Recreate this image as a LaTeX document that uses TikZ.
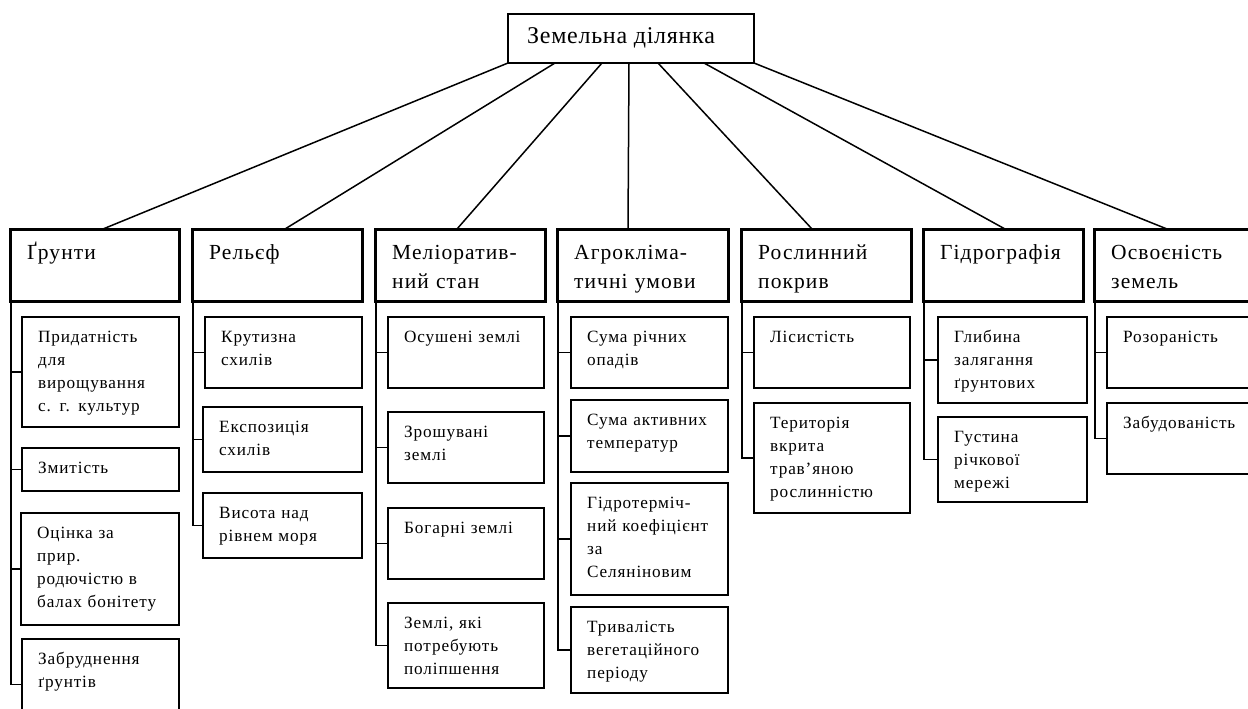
\documentclass[tikz,border=0pt]{standalone}
\usepackage{fontspec}
\setmainfont{Liberation Serif}
\newfontfamily\rootfnt[LetterSpace=3]{Liberation Serif}
\newfontfamily\catfnt[LetterSpace=5]{Liberation Serif}
\newfontfamily\subfnt[LetterSpace=5]{Liberation Serif}
\tikzset{
  rootbox/.style={draw, line width=2.2pt, anchor=north west, inner sep=0pt, outer sep=0pt},
  catbox/.style={draw, line width=3pt, anchor=north west, inner sep=0pt, outer sep=0pt},
  subbox/.style={draw, line width=1.5pt, anchor=north west, inner sep=0pt, outer sep=0pt},
  roottxt/.style={anchor=base west, inner sep=0pt, font=\rootfnt\fontsize{24}{28}\selectfont},
  cattxt/.style={anchor=base west, inner sep=0pt, text width=165pt, align=left, font=\catfnt\fontsize{21.5}{29}\selectfont},
  subtxt/.style={anchor=base west, inner sep=0pt, text width=155pt, align=left, font=\subfnt\fontsize{17.2}{23}\selectfont},
  link/.style={line width=1.5pt},
  conn/.style={line width=1.5pt},
}
\newcommand\catbx[6]{%
  \node[catbox, minimum width={(#4-#2)*1pt}, minimum height={(#5-#3)*1pt}] (#1) at (#2,#3) {};
  \node[cattxt] (#1t) at ([shift={(17,30)}]#1.north west) {#6};
}
\newcommand\subbx[6]{%
  \node[subbox, minimum width={(#4-#2)*1pt}, minimum height={(#5-#3)*1pt}] (#1) at (#2,#3) {};
  \node[subtxt] (#1t) at ([shift={(16,25)}]#1.north west) {#6};
}
\begin{document}
\begin{tikzpicture}[x=1pt, y=-1pt]
\clip (0,0) rectangle (1248,709);
\fill[white] (0,0) rectangle (1248,709);

% root
\node[rootbox, minimum width=246pt, minimum height=49pt] (root) at (508,14) {};
\node[roottxt] (roott) at ([shift={(19,30)}]root.north west) {Земельна ділянка};

% categories
\catbx{g}{10}{229}{179}{301}{Ґрунти}
\catbx{r}{192}{229}{362}{301}{Рельєф}
\catbx{m}{375}{229}{545}{301}{Меліоратив-\\ний стан}
\catbx{a}{557}{229}{728}{301}{Агрокліма-\\тичні умови}
\catbx{p}{741}{229}{911}{301}{Рослинний\\покрив}
\catbx{h}{923}{229}{1083}{301}{Гідрографія}
\catbx{o}{1094}{229}{1262}{301}{Освоєність\\земель}

% links from root
\draw[link] ([xshift=0pt]root.south west) -- ([xshift=93pt]g.north west);
\draw[link] ([xshift=47pt]root.south west) -- ([xshift=93pt]r.north west);
\draw[link] ([xshift=94pt]root.south west) -- ([xshift=82pt]m.north west);
\draw[link] ([xshift=121pt]root.south west) -- ([xshift=71pt]a.north west);
\draw[link] ([xshift=150pt]root.south west) -- ([xshift=71pt]p.north west);
\draw[link] ([xshift=196pt]root.south west) -- ([xshift=82pt]h.north west);
\draw[link] ([xshift=246pt]root.south west) -- ([xshift=73pt]o.north west);

% Ґрунти
\subbx{g1}{22}{317}{179}{427}{Придатність\\для\\вирощування\\с. г. культур}
\subbx{g2}{22}{448}{179}{491}{Змитість}
\subbx{g3}{21}{513}{179}{625}{Оцінка за\\прир.\\родючістю в\\балах бонітету}
\subbx{g4}{22}{639}{179}{730}{Забруднення\\ґрунтів}
% Рельєф
\subbx{r1}{205}{317}{362}{388}{Крутизна\\схилів}
\subbx{r2}{203}{407}{362}{472}{Експозиція\\схилів}
\subbx{r3}{203}{493}{362}{558}{Висота над\\рівнем моря}
% Меліоративний стан
\subbx{m1}{388}{317}{544}{388}{Осушені землі}
\subbx{m2}{388}{412}{544}{483}{Зрошувані\\землі}
\subbx{m3}{388}{508}{544}{579}{Богарні землі}
\subbx{m4}{388}{603}{544}{688}{Землі, які\\потребують\\поліпшення}
% Агрокліматичні умови
\subbx{a1}{571}{317}{728}{388}{Сума річних\\опадів}
\subbx{a2}{571}{400}{728}{472}{Сума активних\\температур}
\subbx{a3}{571}{483}{728}{595}{Гідротерміч-\\ний коефіцієнт\\за\\Селяніновим}
\subbx{a4}{571}{607}{728}{693}{Тривалість\\вегетаційного\\періоду}
% Рослинний покрив
\subbx{p1}{754}{317}{910}{388}{Лісистість}
\subbx{p2}{754}{403}{910}{513}{Територія\\вкрита\\трав’яною\\рослинністю}
% Гідрографія
\subbx{h1}{938}{317}{1087}{403}{Глибина\\залягання\\ґрунтових}
\subbx{h2}{938}{417}{1087}{502}{Густина\\річкової\\мережі}
% Освоєність земель
\subbx{o1}{1107}{317}{1262}{388}{Розораність}
\subbx{o2}{1107}{403}{1262}{474}{Забудованість}

% connectors
\foreach \c/\s in {g/g1,g/g2,g/g3,g/g4,r/r1,r/r2,r/r3,m/m1,m/m2,m/m3,m/m4,a/a1,a/a2,a/a3,a/a4,p/p1,p/p2,h/h1,h/h2,o/o1,o/o2}
  \draw[conn] ([xshift=0.8pt]\c.south west) |- (\s.west);
\end{tikzpicture}
\end{document}
